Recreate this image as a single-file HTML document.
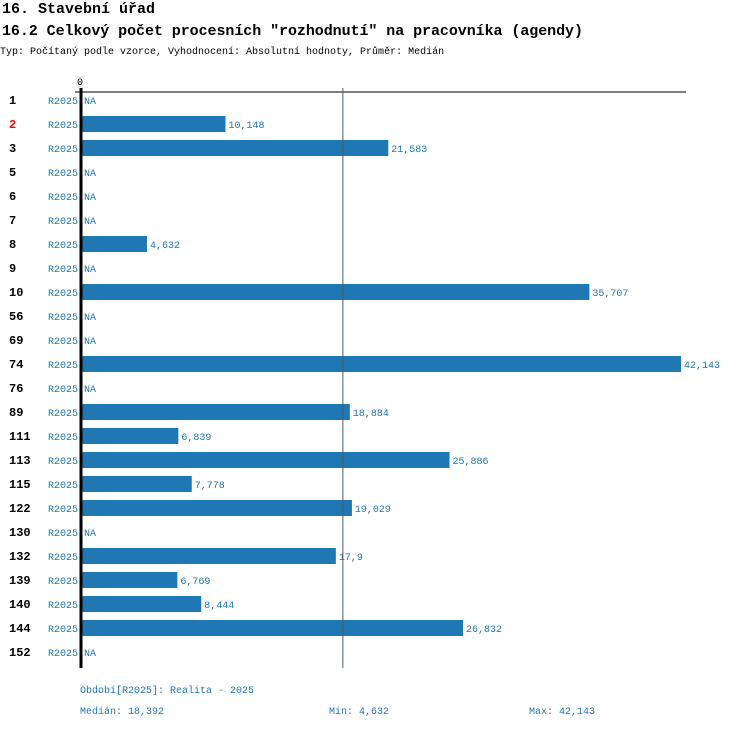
<!DOCTYPE html>
<html><head><meta charset="utf-8"><style>
body{margin:0;background:#fff;width:750px;height:728px;overflow:hidden;font-family:"Liberation Mono","DejaVu Sans Mono",monospace}
svg text{font-family:"Liberation Mono","DejaVu Sans Mono",monospace}
</style></head><body>
<svg id="c" width="750" height="728">
<text x="2" y="13" font-size="15" font-weight="bold" fill="#000">16. Stavební úřad</text>
<text x="2" y="35" font-size="15" font-weight="bold" fill="#000" textLength="581">16.2 Celkový počet procesních "rozhodnutí" na pracovníka (agendy)</text>
<text x="0" y="54" font-size="10" fill="#000">Typ: Počítaný podle vzorce, Vyhodnocení: Absolutní hodnoty, Průměr: Medián</text>
<text x="80" y="85" font-size="10" text-anchor="middle" fill="#000">0</text>
<line x1="75" y1="92" x2="686" y2="92" stroke="#000" stroke-width="1"/>
<g id="rows"></g>
<line id="med" y1="88" y2="668" stroke="#4a5a68" stroke-width="1"/>
<line x1="81" y1="88" x2="81" y2="668" stroke="#000" stroke-width="3"/>
<text x="80" y="693" font-size="10" fill="#1f77b4">Období[R2025]: Realita - 2025</text>
<text x="80" y="714" font-size="10" fill="#1f77b4">Medián: 18,392</text>
<text x="329" y="714" font-size="10" fill="#1f77b4">Min: 4,632</text>
<text x="529" y="714" font-size="10" fill="#1f77b4">Max: 42,143</text>
</svg>
<script>
const categories=["1","2","3","5","6","7","8","9","10","56","69","74","76","89","111","113","115","122","130","132","139","140","144","152"];
const values=[null,10148,21583,null,null,null,4632,null,35707,null,null,42143,null,18884,6839,25886,7778,19029,null,17900,6769,8444,26832,null];
const valueLabels=["NA","10,148","21,583","NA","NA","NA","4,632","NA","35,707","NA","NA","42,143","NA","18,884","6,839","25,886","7,778","19,029","NA","17,9","6,769","8,444","26,832","NA"];
const highlighted=["2"];
const median=18392;
const maxV=42143;
const x=v=>81+v*600/maxV;
const y=i=>100+i*24;
const NS="http://www.w3.org/2000/svg";
const g=document.getElementById('rows');
document.getElementById('med').setAttribute('x1',x(median));
document.getElementById('med').setAttribute('x2',x(median));
categories.forEach((c,i)=>{
 const t=document.createElementNS(NS,'text');
 
 
 t.setAttribute('x',9);t.setAttribute('y',y(i)+4);t.setAttribute('font-size','12');t.setAttribute('font-weight','bold');
 t.setAttribute('fill',highlighted.includes(c)?'#ff0000':'#000');t.textContent=c;g.appendChild(t);
 const p=document.createElementNS(NS,'text');
 
 
 p.setAttribute('x',78);p.setAttribute('y',y(i)+4);p.setAttribute('font-size','10');p.setAttribute('text-anchor','end');p.setAttribute('fill','#1f77b4');p.textContent='R2025';g.appendChild(p);
 const v=values[i];let lx=84;
 if(v!==null){
  const r=document.createElementNS(NS,'rect');
  
  
  r.setAttribute('x',81);r.setAttribute('y',y(i)-8);r.setAttribute('width',x(v)-81);r.setAttribute('height',16);r.setAttribute('fill','#1f77b4');g.appendChild(r);
  lx=x(v)+3;
 }
 const l=document.createElementNS(NS,'text');
 
 
 l.setAttribute('x',lx);l.setAttribute('y',y(i)+4);l.setAttribute('font-size','10');l.setAttribute('fill','#1f77b4');l.textContent=valueLabels[i];g.appendChild(l);
});
</script>
</body></html>
